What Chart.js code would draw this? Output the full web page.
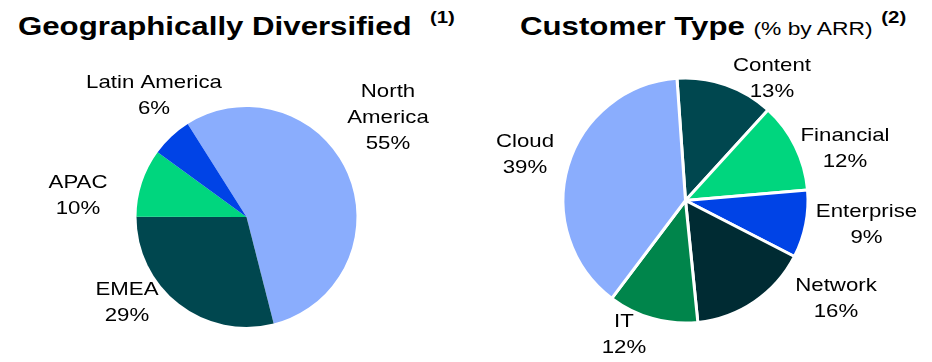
<!DOCTYPE html>
<html>
<head>
<meta charset="utf-8">
<script src="https://cdn.jsdelivr.net/npm/chart.js@4/dist/chart.umd.min.js"></script>
<style>
  html, body { margin: 0; padding: 0; background: #fff; }
  body { width: 932px; height: 362px; position: relative; overflow: hidden; font-family: "Liberation Sans", Arial, sans-serif; }
  .title { position: absolute; top: 10px; font-weight: bold; font-size: 26px; color: #000; white-space: nowrap; transform: scaleX(1.2); transform-origin: left top; }
  .title .sub { font-weight: normal; font-size: 19px; }
  .title sup { font-size: 17px; position: relative; top: -2px; }
  .box { position: absolute; top: 0; width: 466px; height: 362px; }
</style>
</head>
<body>
<div class="title" style="left:18px">Geographically Diversified <sup style="margin-left:8px">(1)</sup></div>
<div class="title" style="left:520px">Customer Type <span class="sub">(% by ARR)</span> <sup>(2)</sup></div>
<div class="box" style="left:0"><canvas id="geoChart"></canvas></div>
<div class="box" style="left:466px"><canvas id="custChart"></canvas></div>
<script>
const geoLabels = ['North America', 'EMEA', 'APAC', 'Latin America'];
const geoValues = [55, 29, 10, 6];
const geoColors = ['#8AADFD', '#00474F', '#00D67E', '#0043E6'];

const custLabels = ['Content', 'Financial', 'Enterprise', 'Network', 'IT', 'Cloud'];
const custValues = [13, 12, 9, 16, 12, 39];
const custColors = ['#00474F', '#00D67E', '#0043E6', '#002B33', '#00854B', '#8AADFD'];

// where each label block sits, relative to the pie centre (px)
const geoLabelPos = [[141.5, -99.5], [-119.5, 86], [-168.5, -21], [-92.5, -121]];
const custLabelPos = [[86.5, -121.4], [159.5, -52], [181, 24], [150.5, 98], [-61.5, 134.5], [-160.5, -45.5]];

const pieLabels = {
    id: 'pieLabels',
    afterDatasetsDraw(chart, args, opts) {
        const ctx = chart.ctx;
        const meta = chart.getDatasetMeta(0);
        const data = chart.data.datasets[0].data;
        meta.data.forEach((arc, i) => {
            const name = chart.data.labels[i];
            let lines = opts.wrap && opts.wrap.includes(name) ? name.split(' ') : [name];
            lines = lines.concat([data[i] + '%']);
            const cx = arc.x + opts.pos[i][0];
            const cy = arc.y + opts.pos[i][1];
            const lh = 26;
            lines.forEach((t, j) => {
                ctx.save();
                ctx.font = '19px "Liberation Sans", Arial, sans-serif';
                ctx.fillStyle = '#000';
                ctx.textAlign = 'center';
                ctx.textBaseline = 'middle';
                // the source text is drawn a bit wide
                ctx.translate(cx, cy + (j - (lines.length - 1) / 2) * lh);
                ctx.scale(1.17, 1);
                ctx.fillText(t, 0, 0);
                ctx.restore();
            });
        });
    }
};

new Chart(document.getElementById('geoChart'), {
    type: 'pie',
    data: {
        labels: geoLabels,
        datasets: [{
            data: geoValues,
            backgroundColor: geoColors,
            borderWidth: 0
        }]
    },
    options: {
        responsive: true,
        maintainAspectRatio: false,
        animation: false,
        rotation: -32.3,
        radius: 110,
        layout: { padding: { left: 27, top: 72 } },
        plugins: {
            legend: { display: false },
            tooltip: { enabled: false },
            pieLabels: { pos: geoLabelPos, wrap: ['North America'] }
        }
    },
    plugins: [pieLabels]
});

new Chart(document.getElementById('custChart'), {
    type: 'pie',
    data: {
        labels: custLabels,
        datasets: [{
            data: custValues,
            backgroundColor: custColors,
            borderColor: '#fff',
            borderWidth: 3
        }]
    },
    options: {
        responsive: true,
        maintainAspectRatio: false,
        animation: false,
        rotation: -4,
        radius: 122.5,
        layout: { padding: { right: 27, top: 39 } },
        plugins: {
            legend: { display: false },
            tooltip: { enabled: false },
            pieLabels: { pos: custLabelPos }
        }
    },
    plugins: [pieLabels]
});
</script>
</body>
</html>
